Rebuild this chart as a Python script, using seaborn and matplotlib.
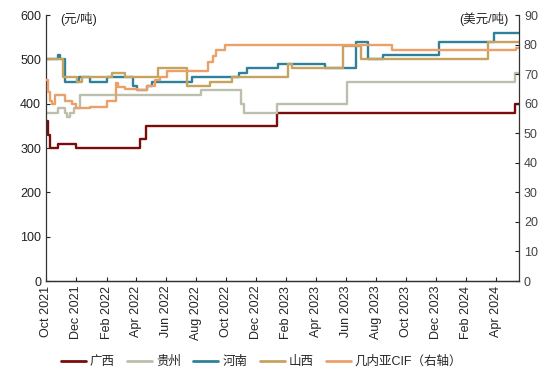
import pandas as pd
import seaborn as sns
import matplotlib.pyplot as plt
import matplotlib.dates as mdates
from matplotlib.lines import Line2D

# 价格变动点（阶梯数据）
x_start = '2021-10-01'
x_end = '2024-05-18'

gx_dates = ['2021-10-01', '2021-10-05', '2021-10-09', '2021-10-25', '2021-12-01',
            '2022-04-10', '2022-04-22', '2023-01-13', '2024-05-09']
gx_vals = [360, 330, 300, 310, 300, 320, 350, 380, 400]

gz_dates = ['2021-10-01', '2021-10-25', '2021-11-09', '2021-11-13', '2021-11-19',
            '2021-11-27', '2021-12-09', '2022-08-11', '2022-11-01', '2022-11-07',
            '2023-01-13', '2023-06-04', '2024-05-09']
gz_vals = [380, 390, 380, 370, 380, 390, 420, 430, 400, 380, 400, 450, 470]

hn_dates = ['2021-10-01', '2021-10-25', '2021-10-29', '2021-11-09', '2021-12-07',
            '2021-12-29', '2022-02-02', '2022-03-27', '2022-04-04', '2022-04-24',
            '2022-05-04', '2022-07-24', '2022-10-28', '2022-11-13', '2023-01-15',
            '2023-04-20', '2023-06-22', '2023-07-16', '2023-08-16', '2023-12-07',
            '2024-03-28']
hn_vals = [500, 510, 500, 450, 460, 450, 460, 440, 430, 440, 450, 460, 470, 480,
           490, 480, 540, 500, 510, 540, 560]

sx_dates = ['2021-10-01', '2021-11-04', '2021-12-03', '2021-12-13', '2022-02-12',
            '2022-03-10', '2022-05-16', '2022-07-14', '2022-08-30', '2022-10-13',
            '2023-02-04', '2023-02-12', '2023-05-26', '2023-07-03', '2024-03-16']
sx_vals = [500, 460, 450, 460, 470, 460, 480, 440, 450, 460, 490, 480, 530, 500, 540]

cif_dates = ['2021-10-01', '2021-10-05', '2021-10-09', '2021-10-13', '2021-10-19',
             '2021-11-09', '2021-11-23', '2021-12-01', '2021-12-29', '2022-02-02',
             '2022-02-20', '2022-02-24', '2022-03-10', '2022-04-04', '2022-04-24',
             '2022-05-10', '2022-05-20', '2022-06-03', '2022-08-26', '2022-09-05',
             '2022-09-11', '2022-09-29', '2023-09-03', '2024-05-12']
cif_vals = [68, 64, 61, 60, 63, 61, 60, 58.5, 59, 61, 67, 65.5, 65, 64.5, 66,
            68, 69, 71, 74, 76, 78, 80, 78, 79]

names = ['广西', '贵州', '河南', '山西', '几内亚CIF（右轴）']
colors = ['#7A0C0C', '#BDBFAE', '#2F8199', '#C6A35F', '#EBA06A']


def build(dates, vals, name):
    d = list(dates) + [x_end]
    v = list(vals) + [vals[-1]]
    return pd.DataFrame({'date': pd.to_datetime(d), 'value': v, 'series': name})


df_left = pd.concat([
    build(gx_dates, gx_vals, names[0]),
    build(gz_dates, gz_vals, names[1]),
    build(hn_dates, hn_vals, names[2]),
    build(sx_dates, sx_vals, names[3]),
])
df_right = build(cif_dates, cif_vals, names[4])

sns.set_style('ticks')
plt.rcParams['font.family'] = ['Liberation Sans', 'Noto Sans CJK SC']
plt.rcParams['font.size'] = 9

fig = plt.figure(figsize=(5.54, 3.8), dpi=100)
ax = fig.add_axes([0.083, 0.2605, 0.854, 0.70])

sns.lineplot(data=df_left, x='date', y='value', hue='series',
             palette=dict(zip(names[:4], colors[:4])), estimator=None,
             drawstyle='steps-post', linewidth=1.7, legend=False, ax=ax)

ax2 = ax.twinx()
sns.lineplot(data=df_right, x='date', y='value', color=colors[4], estimator=None,
             drawstyle='steps-post', linewidth=1.7, legend=False, ax=ax2)

ax.set_xlim(pd.Timestamp(x_start), pd.Timestamp(x_end))
ax.set_ylim(0, 600)
ax.set_yticks(range(0, 601, 100))
ax2.set_ylim(0, 90)
ax2.set_yticks(range(0, 91, 10))

ax.xaxis.set_major_locator(mdates.MonthLocator(bymonth=(2, 4, 6, 8, 10, 12)))
ax.xaxis.set_major_formatter(mdates.DateFormatter('%b %Y'))
ax.tick_params(axis='x', rotation=90)

for a in (ax, ax2):
    a.set_xlabel('')
    a.set_ylabel('')
    a.tick_params(direction='in', length=3, width=0.8, labelsize=9, colors='#222222')
    a.spines['top'].set_visible(False)
    for s in a.spines.values():
        s.set_color('#333333')
        s.set_linewidth(0.9)
ax.spines['right'].set_visible(False)
ax2.spines['left'].set_visible(False)
ax2.tick_params(axis='y', labelcolor='#444444')

ax.text(0.03, 0.985, '(元/吨)', transform=ax.transAxes, ha='left', va='center', fontsize=9)
ax.text(0.977, 0.985, '(美元/吨)', transform=ax.transAxes, ha='right', va='center', fontsize=9)

handles = [Line2D([0], [0], color=c, lw=2) for c in colors]
fig.legend(handles, names, loc='center', bbox_to_anchor=(0.472, 0.048), ncol=5,
           frameon=False, fontsize=9, handlelength=2.0, handletextpad=0.3,
           columnspacing=1.0)

fig.savefig('out.png', dpi=100)
